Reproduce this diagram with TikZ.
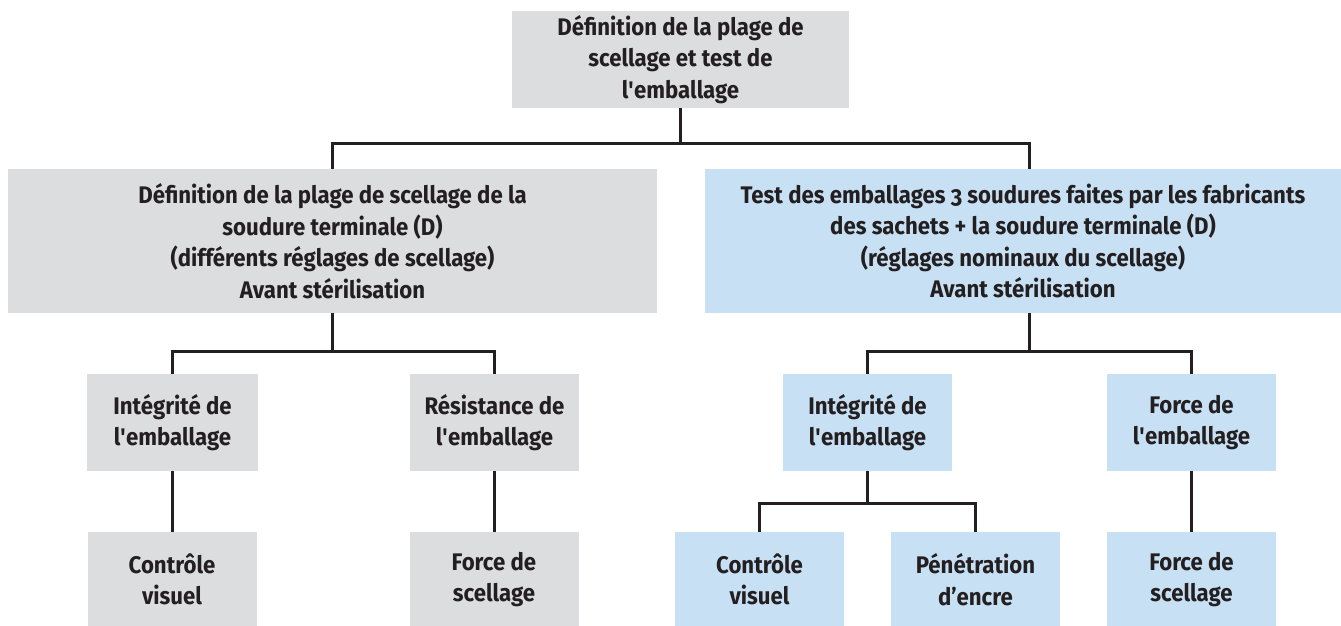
\documentclass[tikz,border=0pt]{standalone}
\usepackage{fontspec}
\newfontfamily\lblfont{Fira Sans}[FakeStretch=0.925,Numbers=OldStyle]
\definecolor{gfill}{HTML}{DCDDDF}
\definecolor{bfill}{HTML}{C8E0F4}
\definecolor{ink}{HTML}{231F20}
\newcommand{\q}{\textquotesingle}
\tikzset{
  box/.style={inner sep=0pt, align=center, text=ink,
    font=\lblfont\bfseries\fontsize{24}{31.5}\selectfont},
  gbox/.style={box, fill=gfill},
  bbox/.style={box, fill=bfill},
  conn/.style={draw=ink, line width=3pt}
}
\begin{document}
\begin{tikzpicture}[x=1pt,y=-1pt]
\useasboundingbox (0,0) rectangle (1341,626);
% nodes
\node[gbox, minimum width=337pt, minimum height=97pt] (top) at (680.5,59.5)
  {Définition de la plage de\\scellage et test de\\l\q emballage};
\node[gbox, minimum width=649pt, minimum height=144pt] (L) at (332.5,241)
  {Définition de la plage de scellage de la\\soudure terminale (D)\\(différents réglages de scellage)\\Avant stérilisation};
\node[bbox, minimum width=636pt, minimum height=144pt] (R) at (1023,241)
  {Test des emballages 3 soudures faites par les fabricants\\des sachets + la soudure terminale (D)\\(réglages nominaux du scellage)\\Avant stérilisation};
\node[gbox, minimum width=171pt, minimum height=97pt] (LA) at (172.5,422.5)
  {Intégrité de\\l\q emballage};
\node[gbox, minimum width=169pt, minimum height=97pt] (LB) at (494.5,422.5)
  {Résistance de\\l\q emballage};
\node[bbox, minimum width=169pt, minimum height=97pt] (RA) at (867.5,422.5)
  {Intégrité de\\l\q emballage};
\node[bbox, minimum width=169pt, minimum height=97pt] (RB) at (1191.5,422.5)
  {Force de\\l\q emballage};
\node[gbox, minimum width=169pt, minimum height=95pt] (LA1) at (172,579.5)
  {Contrôle\\visuel};
\node[gbox, minimum width=169pt, minimum height=95pt] (LB1) at (494,579.5)
  {Force de\\scellage};
\node[bbox, minimum width=169pt, minimum height=95pt] (RA1) at (759.5,579.5)
  {Contrôle\\visuel};
\node[bbox, minimum width=169pt, minimum height=95pt] (RA2) at (975.5,579.5)
  {Pénétration\\d’encre};
\node[bbox, minimum width=169pt, minimum height=95pt] (RB1) at (1191.5,579.5)
  {Force de\\scellage};
% connectors
\draw[conn] (top.south) -- ++(0,36);
\draw[conn] (L.north) -- ++(0,-25) -| ([xshift=6pt]R.north);
\draw[conn] (L.south) -- ++(0,39);
\draw[conn] (LA.north) -- ++(0,-22) -| (LB.north);
\draw[conn] ([xshift=6pt]R.south) -- ++(0,39);
\draw[conn] (RA.north) -- ++(0,-22) -| (RB.north);
\draw[conn] (LA.south) -- (LA.south |- LA1.north);
\draw[conn] (LB.south) -- (LB.south |- LB1.north);
\draw[conn] (RA.south) -- ++(0,33);
\draw[conn] (RA1.north) -- ++(0,-28) -| (RA2.north);
\draw[conn] (RB.south) -- (RB1.north);
\end{tikzpicture}
\end{document}
